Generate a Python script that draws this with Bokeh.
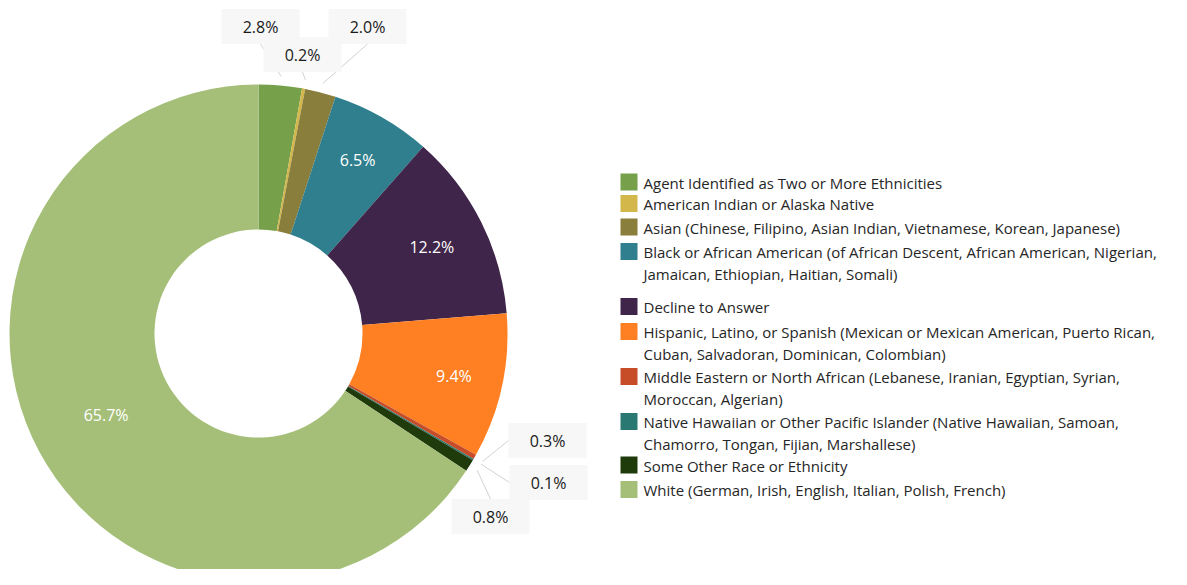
import math
from bokeh.plotting import figure
from bokeh.models import Range1d
from bokeh.core.properties import value
from bokeh.embed import file_html
from bokeh.resources import INLINE

# ---------------- data ----------------
categories = [
    "Agent Identified as Two or More Ethnicities",
    "American Indian or Alaska Native",
    "Asian",
    "Black or African American",
    "Decline to Answer",
    "Hispanic, Latino, or Spanish",
    "Middle Eastern or North African",
    "Native Hawaiian or Other Pacific Islander",
    "Some Other Race or Ethnicity",
    "White",
]
shares = [2.8, 0.2, 2.0, 6.5, 12.2, 9.4, 0.3, 0.1, 0.8, 65.7]
colors = ["#76A049", "#D3B74B", "#8A7E3D", "#307F8E", "#3E2549",
          "#FF8022", "#C74C28", "#2A7872", "#1F3A0B", "#A5BF78"]
legend_lines = [
    ["Agent Identified as Two or More Ethnicities"],
    ["American Indian or Alaska Native"],
    ["Asian (Chinese, Filipino, Asian Indian, Vietnamese, Korean, Japanese)"],
    ["Black or African American (of African Descent, African American, Nigerian,",
     "Jamaican, Ethiopian, Haitian, Somali)"],
    ["Decline to Answer"],
    ["Hispanic, Latino, or Spanish  (Mexican or Mexican American, Puerto Rican,",
     "Cuban, Salvadoran, Dominican, Colombian)"],
    ["Middle Eastern or North African (Lebanese, Iranian, Egyptian, Syrian,",
     "Moroccan, Algerian)"],
    ["Native Hawaiian or Other Pacific Islander (Native Hawaiian, Samoan,",
     "Chamorro, Tongan, Fijian, Marshallese)"],
    ["Some Other Race or Ethnicity"],
    ["White  (German, Irish, English, Italian, Polish, French)"],
]

# ---------------- layout ----------------
W, H = 1171, 569
FONT = value("Open Sans")


def fx(px):
    return px


def fy(py):
    return H - py


CX, CY = fx(258), fy(333)
R_OUT, R_IN = 249, 104

inside_r_default = 200
inside_r_special = {"White": 173, "Decline to Answer": 194}
# outside labels: box center offset from donut center (screen px), leader anchor side
outside_layout = {
    "Agent Identified as Two or More Ethnicities": (2, -307, "bottom"),
    "American Indian or Alaska Native": (44, -279, "bottom"),
    "Asian": (109, -307, "bottom"),
    "Middle Eastern or North African": (289, 107, "left"),
    "Native Hawaiian or Other Pacific Islander": (290, 149, "left"),
    "Some Other Race or Ethnicity": (232, 183, "top"),
}
BOX_W, BOX_H = 78, 35
legend_row_y = [182, 203.5, 227, 251.5, 306.5, 331.5, 376.5, 421.5, 465, 489.5]
LINE_STEP = 21.5

p = figure(width=W, height=H, x_range=Range1d(0, W), y_range=Range1d(0, H),
           output_backend="svg", toolbar_location=None, min_border=0,
           x_axis_location=None, y_axis_location=None)
p.grid.visible = False
p.outline_line_color = None
p.background_fill_color = "white"
p.border_fill_color = "white"

total = sum(shares)
cum = 0.0
starts, ends, mids = [], [], []
for s in shares:
    a_hi = math.pi / 2 - 2 * math.pi * cum / total
    a_lo = math.pi / 2 - 2 * math.pi * (cum + s) / total
    starts.append(a_lo)
    ends.append(a_hi)
    mids.append((a_lo + a_hi) / 2)
    cum += s

p.annular_wedge(x=[CX] * len(shares), y=[CY] * len(shares),
                inner_radius=R_IN, outer_radius=R_OUT,
                start_angle=starts, end_angle=ends, direction="anticlock",
                fill_color=colors, line_color=None)

# inside labels
ix, iy, it = [], [], []
for cat, s, m in zip(categories, shares, mids):
    if cat in outside_layout:
        continue
    r = inside_r_special.get(cat, inside_r_default)
    ix.append(CX + r * math.cos(m))
    iy.append(CY + r * math.sin(m))
    it.append(f"{s:.1f}%")
p.text(ix, iy, text=it, text_align="center", text_baseline="middle",
       text_font=FONT, text_font_size="16px", text_color="white")

# outside labels with boxes and leaders
bx, by, bt, lx0, ly0, lx1, ly1 = [], [], [], [], [], [], []
for cat, s, m in zip(categories, shares, mids):
    if cat not in outside_layout:
        continue
    dx, dy, side = outside_layout[cat]
    cx_, cy_ = CX + dx, CY - dy
    bx.append(cx_)
    by.append(cy_)
    bt.append(f"{s:.1f}%")
    lx0.append(CX + 258 * math.cos(m))
    ly0.append(CY + 258 * math.sin(m))
    if side == "bottom":
        ex, ey = cx_, cy_ - BOX_H / 2
    elif side == "top":
        ex, ey = cx_, cy_ + BOX_H / 2
    else:
        ex, ey = cx_ - BOX_W / 2, cy_
    lx1.append(ex)
    ly1.append(ey)

p.segment(lx0, ly0, lx1, ly1, line_color="#d2d2d2", line_width=1)
p.rect(bx, by, width=BOX_W, height=BOX_H, fill_color="#f7f7f7", line_color=None)
p.text(bx, by, text=bt, text_align="center", text_baseline="middle",
       text_font=FONT, text_font_size="16px", text_color="#1a1a1a")

# legend
sq_x, sq_y, tx, ty, tt = [], [], [], [], []
for lines, yrow in zip(legend_lines, legend_row_y):
    sq_x.append(fx(628.5))
    sq_y.append(fy(yrow - 0.5))
    for k, ln in enumerate(lines):
        tx.append(fx(643))
        ty.append(fy(yrow + k * LINE_STEP))
        tt.append(ln)
p.rect(sq_x, sq_y, width=17, height=17, fill_color=colors, line_color=None)
p.text(tx, ty, text=tt, text_align="left", text_baseline="middle",
       text_font=FONT, text_font_size="15px", text_color="#262626")

open("out.html", "w").write(file_html(p, INLINE))
